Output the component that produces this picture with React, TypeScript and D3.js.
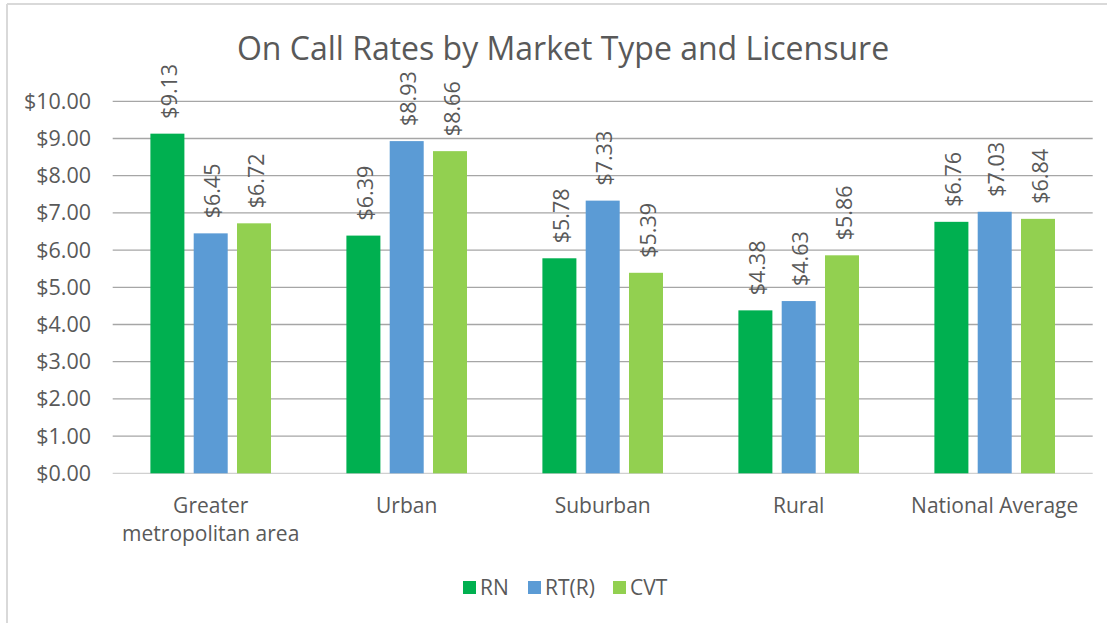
import React, { useEffect, useRef } from "react";
import * as d3 from "d3";

const categories = ["Greater\nmetropolitan area", "Urban", "Suburban", "Rural", "National Average"];
const seriesNames = ["RN", "RT(R)", "CVT"];
const rnValues = [9.13, 6.39, 5.78, 4.38, 6.76];
const rtValues = [6.45, 8.93, 7.33, 4.63, 7.03];
const cvtValues = [6.72, 8.66, 5.39, 5.86, 6.84];
const yTicks = [0, 1, 2, 3, 4, 5, 6, 7, 8, 9, 10];
const colors = ["#00B050", "#5B9BD5", "#92D050"];

const W = 1107;
const H = 625;
const FONT = "'Open Sans', 'Liberation Sans', sans-serif";
const TXT = "#595959";

export default function App() {
  const ref = useRef<SVGSVGElement>(null);
  useEffect(() => {
    const svg = d3.select(ref.current);
    svg.selectAll("*").remove();
    const series = [rnValues, rtValues, cvtValues];
    const left = 112.7, right = 1092.7, top = 101.3, bottom = 473.3;
    const x0 = d3.scaleBand().domain(categories).range([left, right]).paddingInner(0).paddingOuter(0);
    const y = d3.scaleLinear().domain([0, 10]).range([bottom, top]);
    const barW = 34;
    const step = 43.3;

    // border
    svg.append("line").attr("x1", 7).attr("x2", W).attr("y1", 4).attr("y2", 4).attr("stroke", "#d9d9d9").attr("stroke-width", 2);
    svg.append("line").attr("x1", 7).attr("x2", 7).attr("y1", 4).attr("y2", 623).attr("stroke", "#d9d9d9").attr("stroke-width", 2);

    // title
    svg.append("text").attr("x", 563).attr("y", 60).attr("text-anchor", "middle")
      .attr("font-family", FONT).attr("font-size", 32).attr("fill", TXT)
      .text("On Call Rates by Market Type and Licensure");

    // gridlines
    const g = svg.append("g");
    yTicks.forEach((t) => {
      g.append("line").attr("x1", left).attr("x2", right).attr("y1", y(t)).attr("y2", y(t))
        .attr("stroke", t === 0 ? "#d0d0d0" : "#a6a6a6").attr("stroke-width", 1.3);
      g.append("text").attr("x", 91).attr("y", y(t)).attr("dy", "0.35em").attr("text-anchor", "end")
        .attr("font-family", FONT).attr("font-size", 21.5).attr("fill", TXT)
        .text(d3.format("$.2f")(t));
    });

    // bars
    categories.forEach((c, ci) => {
      const cx = x0(c)! + x0.bandwidth() / 2;
      series.forEach((vals, si) => {
        const v = vals[ci];
        const bx = cx + (si - 1) * step;
        svg.append("rect").attr("x", bx - barW / 2).attr("y", y(v)).attr("width", barW)
          .attr("height", y(0) - y(v)).attr("fill", colors[si]);
        svg.append("text")
          .attr("transform", `translate(${bx + 1},${y(v) - 15}) rotate(-90)`)
          .attr("dominant-baseline", "central")
          .attr("font-family", FONT).attr("font-size", 21.5).attr("fill", TXT)
          .text(d3.format("$.2f")(v));
      });
      const lines = c.split("\n");
      lines.forEach((ln, li) => {
        svg.append("text").attr("x", cx).attr("y", 513 + li * 28).attr("text-anchor", "middle")
          .attr("font-family", FONT).attr("font-size", 21).attr("fill", TXT).text(ln);
      });
    });

    // legend
    const legX = [463, 528, 613];
    seriesNames.forEach((s, i) => {
      svg.append("rect").attr("x", legX[i]).attr("y", 581).attr("width", 13).attr("height", 13).attr("fill", colors[i]);
      svg.append("text").attr("x", legX[i] + 17).attr("y", 587.5).attr("dy", "0.35em")
        .attr("font-family", FONT).attr("font-size", 21).attr("fill", TXT).text(s);
    });
  }, []);
  return (
    <div style={{ position: "absolute", left: 0, top: 0 }}>
      <svg ref={ref} width={W} height={H} style={{ display: "block", background: "#fff" }} />
    </div>
  );
}
